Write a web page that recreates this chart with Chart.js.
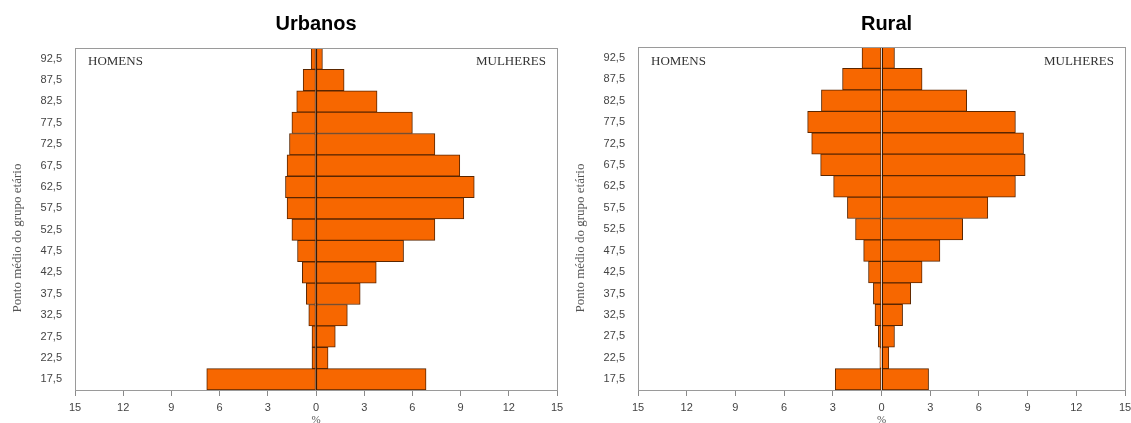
<!DOCTYPE html>
<html lang="pt">
<head>
    <meta charset="UTF-8">
    <title>Pirâmides etárias - Urbanos e Rural</title>
    <script src="https://cdn.jsdelivr.net/npm/chart.js"></script>
    <style>
        body {
            margin: 0;
            padding: 0;
            background: #fff;
            overflow: hidden;
        }
        .row {
            display: flex;
            width: 1131px;
            height: 423px;
        }
        canvas {
            display: block;
        }
    </style>
</head>
<body>
    <div class="row">
        <canvas id="urbanChart" width="566" height="423"></canvas>
        <canvas id="ruralChart" width="565" height="423"></canvas>
    </div>

    <script>
        // Age group midpoints, top to bottom
        const ageLabels = ['92,5', '87,5', '82,5', '77,5', '72,5', '67,5', '62,5', '57,5',
                           '52,5', '47,5', '42,5', '37,5', '32,5', '27,5', '22,5', '17,5'];

        // Percentages (men are drawn to the left)
        const urbanMen   = [0.3, 0.8, 1.2, 1.5, 1.65, 1.8, 1.9, 1.8, 1.5, 1.15, 0.85, 0.6, 0.45, 0.25, 0.25, 6.8];
        const urbanWomen = [0.4, 1.75, 3.8, 6.0, 7.4, 8.95, 9.85, 9.2, 7.4, 5.45, 3.75, 2.75, 1.95, 1.2, 0.75, 6.85];
        const ruralMen   = [1.2, 2.4, 3.7, 4.55, 4.3, 3.75, 2.95, 2.1, 1.6, 1.1, 0.8, 0.5, 0.4, 0.2, 0.1, 2.85];
        const ruralWomen = [0.8, 2.5, 5.25, 8.25, 8.75, 8.85, 8.25, 6.55, 5.0, 3.6, 2.5, 1.8, 1.3, 0.8, 0.45, 2.9];

        const xTicks = [-15, -12, -9, -6, -3, 0, 3, 6, 9, 12, 15];

        const barFill = '#f76700';
        const barEdge = '#5a2600';
        const sansFont = "'Liberation Sans', Arial, sans-serif";
        const serifFont = "'Liberation Serif', 'Times New Roman', serif";

        // Frame, zero line, titles and the HOMENS / MULHERES notes
        const decorPlugin = {
            id: 'decor',
            afterDatasetsDraw(chart, args, opts) {
                const { ctx, chartArea: a, scales: { x } } = chart;
                ctx.save();

                const x0 = Math.round(x.getPixelForValue(0)) + 0.5;
                ctx.strokeStyle = '#3b1800';
                ctx.lineWidth = 1;
                ctx.beginPath();
                ctx.moveTo(x0, a.top);
                ctx.lineTo(x0, a.bottom);
                ctx.stroke();

                ctx.strokeStyle = '#9a9a9a';
                ctx.strokeRect(Math.round(a.left) + 0.5, Math.round(a.top) + 0.5,
                    Math.round(a.right - a.left), Math.round(a.bottom - a.top));

                ctx.fillStyle = '#000';
                ctx.font = 'bold 20px ' + sansFont;
                ctx.textAlign = 'center';
                ctx.textBaseline = 'middle';
                ctx.fillText(opts.title, (a.left + a.right) / 2 + opts.titleShift, 24);

                ctx.fillStyle = '#333';
                ctx.font = '13px ' + serifFont;
                ctx.textAlign = 'left';
                ctx.fillText('HOMENS', a.left + 13, 62);
                ctx.textAlign = 'right';
                ctx.fillText('MULHERES', a.right - 11, 62);

                ctx.fillStyle = '#555';
                ctx.translate(opts.yTitleX, 238);
                ctx.rotate(-Math.PI / 2);
                ctx.textAlign = 'center';
                ctx.fillText('Ponto médio do grupo etário', 0, 0);

                ctx.restore();
            }
        };

        function makePyramid(canvasId, title, men, women, layout) {
            const ctx = document.getElementById(canvasId).getContext('2d');
            return new Chart(ctx, {
                type: 'bar',
                data: {
                    labels: ageLabels,
                    datasets: [
                        {
                            label: 'Homens',
                            data: men.map(v => -v),
                            backgroundColor: barFill,
                            borderColor: barEdge,
                            borderWidth: 1,
                            borderSkipped: false,
                            barPercentage: 1,
                            categoryPercentage: 1
                        },
                        {
                            label: 'Mulheres',
                            data: women,
                            backgroundColor: barFill,
                            borderColor: barEdge,
                            borderWidth: 1,
                            borderSkipped: false,
                            barPercentage: 1,
                            categoryPercentage: 1
                        }
                    ]
                },
                options: {
                    indexAxis: 'y',
                    responsive: false,
                    animation: false,
                    layout: {
                        padding: { top: layout.top, right: layout.right, left: 0, bottom: 0 }
                    },
                    plugins: {
                        legend: { display: false },
                        tooltip: { enabled: false },
                        decor: { title: title, titleShift: layout.titleShift, yTitleX: layout.yTitleX }
                    },
                    scales: {
                        x: {
                            stacked: true,
                            min: -15,
                            max: 15,
                            afterBuildTicks: scale => { scale.ticks = xTicks.map(v => ({ value: v })); },
                            afterFit: scale => {
                                scale.height = 33;
                                scale.paddingLeft = 0;
                                scale.paddingRight = 0;
                            },
                            ticks: {
                                callback: v => String(Math.abs(v)),
                                color: '#444',
                                font: { family: sansFont, size: 11 },
                                padding: 5,
                                maxRotation: 0
                            },
                            grid: {
                                drawOnChartArea: false,
                                drawTicks: true,
                                tickLength: 6,
                                color: '#8a8a8a'
                            },
                            border: { display: true, color: '#8a8a8a' },
                            title: {
                                display: true,
                                text: '%',
                                color: '#555',
                                font: { family: serifFont, size: 11, lineHeight: 0.6 },
                                padding: 0
                            }
                        },
                        y: {
                            stacked: true,
                            afterFit: scale => {
                                scale.width = layout.left;
                                scale.paddingTop = 0;
                                scale.paddingBottom = 0;
                            },
                            ticks: {
                                color: '#444',
                                font: { family: sansFont, size: 11 },
                                padding: 13
                            },
                            grid: { display: false, drawTicks: false },
                            border: { display: false }
                        }
                    }
                },
                plugins: [decorPlugin]
            });
        }

        makePyramid('urbanChart', 'Urbanos', urbanMen, urbanWomen,
            { top: 48, right: 9, left: 75, titleShift: 0, yTitleX: 18 });
        makePyramid('ruralChart', 'Rural', ruralMen, ruralWomen,
            { top: 47, right: 6, left: 72, titleShift: 5, yTitleX: 15 });
    </script>
</body>
</html>
